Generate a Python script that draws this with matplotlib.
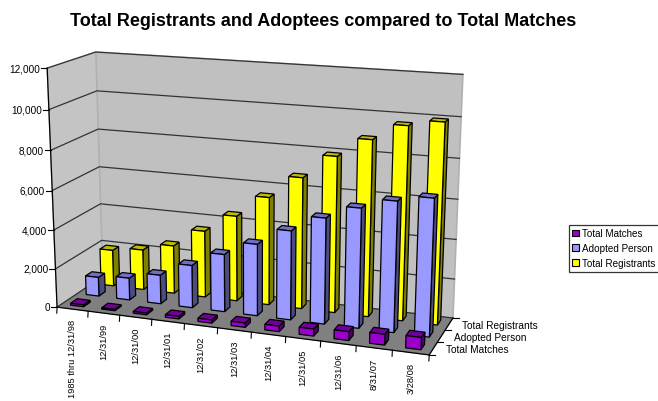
"""plot.py -- Excel style 3D column chart, drawn with a fitted camera on a plain 2D axes."""

import matplotlib

matplotlib.use("Agg")
import matplotlib.pyplot as plt
import numpy as np
from matplotlib.patches import Patch, Polygon

plt.rcParams["font.family"] = ["Liberation Sans", "DejaVu Sans"]

CATEGORIES = ["1985 thru 12/31/98", "12/31/99", "12/31/00", "12/31/01", "12/31/02", "12/31/03",
              "12/31/04", "12/31/05", "12/31/06", "8/31/07", "3/28/08"]
SERIES = ["Total Matches", "Adopted Person", "Total Registrants"]
TOTAL_MATCHES = [100, 70, 90, 130, 160, 220, 280, 350, 440, 530, 600]
ADOPTED_PERSON = [1000, 1150, 1500, 2200, 2950, 3650, 4500, 5300, 5950, 6450, 6750]
TOTAL_REGISTRANTS = [1930, 2130, 2530, 3480, 4430, 5550, 6700, 7900, 8850, 9650, 9950]
Z_TICKS = [0, 2000, 4000, 6000, 8000, 10000, 12000]
Z_MAX = 12000

# (front, side, top) per series
COLORS = [("#9900cc", "#50006c", "#70009a"),
          ("#9999ff", "#4c4c80", "#6f6fc4"),
          ("#ffff00", "#808000", "#bcbc00")]
BAR_W, BAR_D = 0.42, 0.42

# camera calibration: picture positions of the chart's edges
FRONT_TICKS_PX = [57.7, 88, 120, 152, 185, 218, 251, 286, 321, 356, 392, 428]
WALL_FRONT_LEFT_PX = [(58, 308), (55, 270), (53, 231), (51, 192), (50, 152), (49, 110), (48, 69)]
WALL_BACK_LEFT_PX = [(102, 278), (101, 241), (101, 205), (100, 168), (98, 130), (97, 92), (96, 53)]
WALL_BACK_RIGHT_PX = [(453, 318), (455, 280), (456, 240), (458, 201), (459, 159), (461, 118), (463, 75)]
DEPTH_RIGHT_PX = [(430, 356), (438, 345), (445, 332), (453, 318)]


def calibration_points():
    world, pixel = [], []
    for i, u in enumerate(FRONT_TICKS_PX):
        world.append((i, 0, 0))
        pixel.append((u, 308 + (u - 58) * 48 / 372))
    for depth, edge in ((0, WALL_FRONT_LEFT_PX), (3, WALL_BACK_LEFT_PX)):
        for k, px in enumerate(edge):
            world.append((0, depth, k / 6))
            pixel.append(px)
    for k, px in enumerate(WALL_BACK_RIGHT_PX):
        world.append((11, 3, k / 6))
        pixel.append(px)
    for j, px in enumerate(DEPTH_RIGHT_PX):
        world.append((11, j, 0))
        pixel.append(px)
    return world, pixel


def fit_camera(world, pixel):
    rows = []
    for (x, y, z), (u, v) in zip(world, pixel):
        rows.append([x, y, z, 1, 0, 0, 0, 0, -u * x, -u * y, -u * z, -u])
        rows.append([0, 0, 0, 0, x, y, z, 1, -v * x, -v * y, -v * z, -v])
    return np.linalg.svd(np.array(rows, dtype=float))[2][-1].reshape(3, 4)


CAM = fit_camera(*calibration_points())


def project(x, y, z):
    u, v, w = CAM @ np.array([x, y, z, 1.0])
    return u / w, v / w


def quad(ax, pts, fc, ec="black", lw=0.9, z=1):
    ax.add_patch(Polygon([project(*p) for p in pts], closed=True, fc=fc, ec=ec, lw=lw, zorder=z))


def draw_bar(ax, cat, ser, value, colors, z):
    x0, x1 = cat + 0.5 - BAR_W / 2, cat + 0.5 + BAR_W / 2
    y0, y1 = ser + 0.5 - BAR_D / 2, ser + 0.5 + BAR_D / 2
    h = value / Z_MAX
    front, side, top = colors
    quad(ax, [(x1, y0, 0), (x1, y1, 0), (x1, y1, h), (x1, y0, h)], side, z=z)
    quad(ax, [(x0, y0, h), (x1, y0, h), (x1, y1, h), (x0, y1, h)], top, z=z)
    quad(ax, [(x0, y0, 0), (x1, y0, 0), (x1, y0, h), (x0, y0, h)], front, z=z)


def draw_frame(ax):
    n, d = len(CATEGORIES), len(SERIES)
    quad(ax, [(0, d, 0), (n, d, 0), (n, d, 1), (0, d, 1)], "#c0c0c0", ec="#b0b0b0", lw=1.2)
    quad(ax, [(0, 0, 0), (0, d, 0), (0, d, 1), (0, 0, 1)], "#c4c4c4", ec="#b0b0b0", lw=1.0)
    quad(ax, [(0, 0, 0), (n, 0, 0), (n, d, 0), (0, d, 0)], "#808080", ec="#808080", lw=0.5)

    for tick in Z_TICKS:
        h = tick / Z_MAX
        pts = np.array([project(0, 0, h), project(0, d, h), project(n, d, h)])
        ax.plot(pts[:, 0], pts[:, 1], color="#333333", lw=0.9, zorder=1.5)
        u, v = project(0, 0, h)
        ax.plot([u - 6, u], [v, v], color="black", lw=0.8, zorder=1.5)
        ax.text(u - 7, v, f"{tick:,}", ha="right", va="center", fontsize=7.2, color="black")

    # axis lines
    for a, b in [((0, 0, 0), (0, 0, 1)), ((0, 0, 0), (n, 0, 0)), ((n, 0, 0), (n, d, 0))]:
        p, q = project(*a), project(*b)
        ax.plot([p[0], q[0]], [p[1], q[1]], color="black", lw=0.9, zorder=1.6)

    for i in range(n + 1):
        u, v = project(i, 0, 0)
        ax.plot([u, u - 0.3], [v, v + 6], color="black", lw=0.8, zorder=1.6)
    for i, label in enumerate(CATEGORIES):
        u, v = project(i + 0.5, 0, 0)
        ax.text(u, v + 9.5, label, rotation=90, ha="center", va="top", fontsize=6.7, color="black")

    for j in range(d + 1):
        u, v = project(n, j, 0)
        ax.plot([u, u + 6], [v, v], color="black", lw=0.8, zorder=1.6)
    for j, label in enumerate(SERIES):
        u, v = project(n, j + 0.5, 0)
        ax.text(u + 13, v + 1, label, ha="left", va="center", fontsize=7.3, color="black")


def main():
    fig = plt.figure(figsize=(6.58, 4.02), dpi=100, facecolor="white")
    ax = fig.add_axes([0, 0, 1, 1])
    ax.set_xlim(0, 658)
    ax.set_ylim(402, 0)
    ax.axis("off")

    draw_frame(ax)

    values = [TOTAL_MATCHES, ADOPTED_PERSON, TOTAL_REGISTRANTS]
    order = 2.0
    for ser in reversed(range(len(SERIES))):
        for cat in range(len(CATEGORIES)):
            draw_bar(ax, cat, ser, values[ser][cat], COLORS[ser], order)
            order += 0.01

    ax.text(323, 21, "Total Registrants and Adoptees compared to Total Matches", ha="center", va="center",
            fontsize=13, fontweight="bold", color="black")

    handles = [Patch(fc=c[0], ec="black", lw=0.8, label=s) for c, s in zip(COLORS, SERIES)]
    leg = ax.legend(handles=handles, loc="upper left", bbox_to_anchor=(569, 226), bbox_transform=ax.transData,
                    fontsize=7.1, frameon=True, fancybox=False, edgecolor="#333333", framealpha=1,
                    handlelength=0.7, handleheight=0.7, handletextpad=0.3, labelspacing=0.5,
                    borderpad=0.35, borderaxespad=0)
    leg.get_frame().set_linewidth(0.9)

    fig.savefig("out.png", dpi=100, facecolor="white")


if __name__ == "__main__":
    main()
